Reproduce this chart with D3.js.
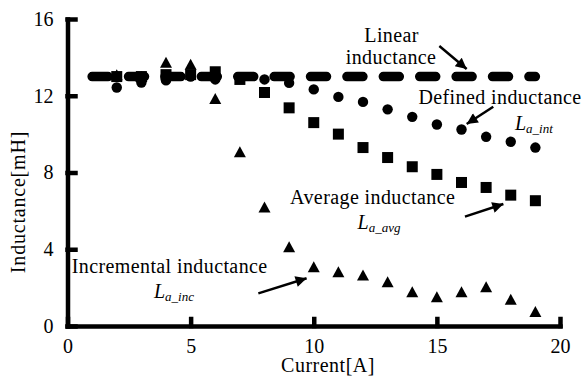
<!DOCTYPE html>
<html>
<head>
<meta charset="utf-8">
<script src="https://d3js.org/d3.v7.min.js"></script>
</head>
<body style="margin:0; background:#fff">
<svg width="586" height="379"></svg>
<script>
// current [A]
var current = [2, 3, 4, 5, 6, 7, 8, 9, 10, 11, 12, 13, 14, 15, 16, 17, 18, 19];
// defined inductance L_a_int (circles)
var defined = [12.43, 12.69, 12.8, 13.0, 12.85, 12.9, 12.85, 12.67, 12.33, 11.94, 11.68, 11.29, 10.9, 10.5, 10.24, 9.86, 9.6, 9.3];
// average inductance L_a_avg (squares)
var average = [13.0, 13.0, 13.1, 13.1, 13.25, 12.85, 12.17, 11.37, 10.6, 10.0, 9.3, 8.78, 8.3, 7.9, 7.48, 7.22, 6.82, 6.53];
// incremental inductance L_a_inc (triangles)
var incremental = [13.1, 13.0, 13.74, 13.64, 11.86, 9.08, 6.2, 4.13, 3.09, 2.83, 2.66, 2.31, 1.79, 1.53, 1.79, 2.05, 1.39, 0.75];
// linear inductance (dashed)
var linearX = [1, 19];
var linearY = [13, 13];

var xTicks = [0, 5, 10, 15, 20];
var yTicks = [0, 4, 8, 12, 16];

var FONT = 'Liberation Serif';

var svg = d3.select('svg');

var x = d3.scaleLinear().domain([0, 20]).range([67.5, 560]);
var y = d3.scaleLinear().domain([0, 16]).range([326, 19]);

// axes
svg.append('g')
    .attr('transform', 'translate(0,' + y(0) + ')')
    .call(d3.axisBottom(x).tickValues(xTicks).tickSizeInner(-7).tickSizeOuter(0).tickPadding(13));

svg.append('g')
    .attr('transform', 'translate(' + x(0) + ',0)')
    .call(d3.axisLeft(y).tickValues(yTicks).tickSizeInner(-8).tickSizeOuter(0).tickPadding(14));

svg.selectAll('.domain, .tick line')
    .attr('stroke', '#000')
    .attr('stroke-width', 4.5)
    .attr('stroke-linecap', 'square');
svg.selectAll('.tick text')
    .attr('font-family', FONT)
    .attr('font-size', 20)
    .attr('fill', '#000');

// axis titles
svg.append('text')
    .attr('x', 328).attr('y', 372)
    .attr('text-anchor', 'middle')
    .attr('font-family', FONT)
    .attr('font-size', 20)
    .attr('letter-spacing', 0.5)
    .text('Current[A]');

svg.append('text')
    .attr('transform', 'translate(25,202) rotate(-90)')
    .attr('text-anchor', 'middle')
    .attr('font-family', FONT)
    .attr('font-size', 20)
    .attr('letter-spacing', 0.8)
    .text('Inductance[mH]');

// linear inductance dashed line
var line = d3.line().x(function(d) { return x(d[0]); }).y(function(d) { return y(d[1]); });
svg.append('path')
    .datum(d3.zip(linearX, linearY))
    .attr('d', line)
    .attr('fill', 'none')
    .attr('stroke', '#000')
    .attr('stroke-width', 9.5)
    .attr('stroke-linecap', 'round')
    .attr('stroke-dasharray', '16 20.4');

// markers
svg.append('g').selectAll('circle')
    .data(d3.zip(current, defined))
    .enter().append('circle')
    .attr('cx', function(d) { return x(d[0]); })
    .attr('cy', function(d) { return y(d[1]); })
    .attr('r', 5.2)
    .attr('fill', '#000');

svg.append('g').selectAll('rect')
    .data(d3.zip(current, average))
    .enter().append('rect')
    .attr('x', function(d) { return x(d[0]) - 5.5; })
    .attr('y', function(d) { return y(d[1]) - 5.5; })
    .attr('width', 11).attr('height', 11)
    .attr('fill', '#000');

svg.append('g').selectAll('path')
    .data(d3.zip(current, incremental))
    .enter().append('path')
    .attr('d', function(d) {
      var cx = x(d[0]), cy = y(d[1]);
      return 'M' + (cx - 6) + ',' + (cy + 5.5) + 'L' + cx + ',' + (cy - 5.5) + 'L' + (cx + 6) + ',' + (cy + 5.5) + 'Z';
    })
    .attr('fill', '#000');

// annotations (data units)
var labels = [
  { t: 'Linear', x: 13.16, y: 14.78, anchor: 'middle' },
  { t: 'inductance', x: 13.14, y: 13.68, anchor: 'middle' },
  { t: 'Defined inductance', x: 14.25, y: 11.57, anchor: 'start' },
  { t: 'Average inductance', x: 9.04, y: 6.38, anchor: 'start' },
  { t: 'Incremental inductance', x: 0.17, y: 2.75, anchor: 'start' }
];
var symbols = [
  { sub: 'a_int', x: 18.17, y: 10.21 },
  { sub: 'a_avg', x: 11.78, y: 5.08 },
  { sub: 'a_inc', x: 3.51, y: 1.46 }
];
var arrows = [
  { x1: 15.1, y1: 14.59, x2: 16.21, y2: 13.39 },
  { x1: 17.29, y1: 11.43, x2: 16.21, y2: 10.53 },
  { x1: 16.14, y1: 5.7, x2: 17.7, y2: 6.36 },
  { x1: 7.75, y1: 1.7, x2: 9.71, y2: 2.49 }
];

svg.append('g').selectAll('text')
    .data(labels)
    .enter().append('text')
    .attr('x', function(d) { return x(d.x); })
    .attr('y', function(d) { return y(d.y); })
    .attr('text-anchor', function(d) { return d.anchor; })
    .attr('font-family', FONT)
    .attr('font-size', 20)
    .attr('letter-spacing', 0.4)
    .text(function(d) { return d.t; });

var sym = svg.append('g').selectAll('text')
    .data(symbols)
    .enter().append('text')
    .attr('x', function(d) { return x(d.x); })
    .attr('y', function(d) { return y(d.y); })
    .attr('font-family', FONT)
    .attr('font-style', 'italic')
    .attr('font-size', 20);
sym.append('tspan').text('L');
sym.append('tspan')
    .attr('dy', 3)
    .attr('font-size', 13)
    .text(function(d) { return d.sub; });

// arrows
svg.append('defs').append('marker')
    .attr('id', 'head')
    .attr('viewBox', '0 0 10 10')
    .attr('refX', 10).attr('refY', 5)
    .attr('markerUnits', 'userSpaceOnUse')
    .attr('markerWidth', 14).attr('markerHeight', 11)
    .attr('orient', 'auto')
  .append('path')
    .attr('d', 'M0,0L10,5L0,10Z')
    .attr('fill', '#000');

svg.append('g').selectAll('line')
    .data(arrows)
    .enter().append('line')
    .attr('x1', function(d) { return x(d.x1); })
    .attr('y1', function(d) { return y(d.y1); })
    .attr('x2', function(d) { return x(d.x2); })
    .attr('y2', function(d) { return y(d.y2); })
    .attr('stroke', '#000')
    .attr('stroke-width', 2.5)
    .attr('marker-end', 'url(#head)');
</script>
</body>
</html>
